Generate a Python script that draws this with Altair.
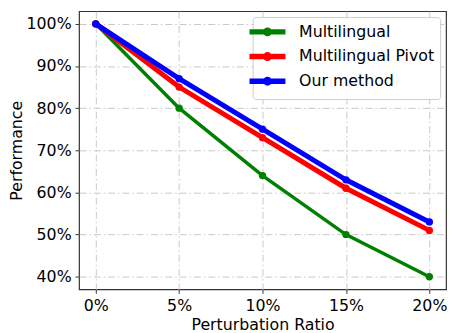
import altair as alt
import pandas as pd

ratios = [0, 5, 10, 15, 20]
series_names = ["Multilingual", "Multilingual Pivot", "Our method"]
multilingual = [100, 80, 64, 50, 40]
pivot = [100, 85, 73, 61, 51]
ours = [100, 87, 75, 63, 53]
colors = ["#008000", "#ff0000", "#0000ff"]
widths = [3.5, 5, 5]

rows = []
for name, vals, w in zip(series_names, [multilingual, pivot, ours], widths):
    for r, v in zip(ratios, vals):
        rows.append({"ratio": r, "perf": v, "series": name, "w": w})
df = pd.DataFrame(rows)

FONT = "DejaVu Sans"

x = alt.X("ratio:Q", title="Perturbation Ratio",
          scale=alt.Scale(domain=[-1, 21], nice=False, zero=False),
          axis=alt.Axis(values=ratios, labelExpr="datum.value + '%'"))
y = alt.Y("perf:Q", title="Performance",
          scale=alt.Scale(domain=[37, 103], nice=False, zero=False),
          axis=alt.Axis(values=[40, 50, 60, 70, 80, 90, 100], labelExpr="datum.value + '%'",
                        titlePadding=2))
color = alt.Color("series:N", scale=alt.Scale(domain=series_names, range=colors),
                  legend=alt.Legend(title=None, orient="top-right", offset=6,
                                    symbolType="M-2.6,0H2.6M0.25,0A0.25,0.25,0,1,1,-0.25,0A0.25,0.25,0,1,1,0.25,0",
                                    symbolStrokeWidth=5.5,
                                    symbolFillColor=alt.ExprRef("scale('color', datum.value)"),
                                    symbolSize=196, labelFontSize=16, labelFont=FONT,
                                    labelLimit=300, fillColor="white", strokeColor="#cccccc",
                                    cornerRadius=3, padding=5, rowPadding=-1,
                                    labelOffset=22, labelColor="black"))

base = alt.Chart(df)

lines = base.mark_line().encode(
    x=x, y=y, color=color, detail="series:N",
    strokeWidth=alt.StrokeWidth("w:Q", scale=None, legend=None),
)
points = base.mark_point(filled=True, size=55, opacity=1).encode(
    x=x, y=y, color=alt.Color("series:N", scale=alt.Scale(domain=series_names, range=colors), legend=None),
)

layers = []
for name in series_names:
    layers.append(lines.transform_filter(alt.datum.series == name))
    layers.append(points.transform_filter(alt.datum.series == name))

chart = alt.layer(*layers).properties(
    width=372, height=282, padding={"left": 0, "top": 1, "right": 2, "bottom": 0}
).configure_view(
    stroke="#333333", strokeWidth=1.2
).configure_axis(
    labelFont=FONT, titleFont=FONT, labelFontSize=16, titleFontSize=16,
    labelColor="black", titleColor="black", titleFontWeight="normal",
    domain=False, tickColor="#333333", tickSize=4, labelPadding=4, titlePadding=4,
    gridColor="#c8c8c8", gridDash=[7, 3, 1.5, 3], gridWidth=1,
).configure_legend(
    labelFont=FONT
)

chart.save("out.html", embed_options={"renderer": "svg", "actions": False})
